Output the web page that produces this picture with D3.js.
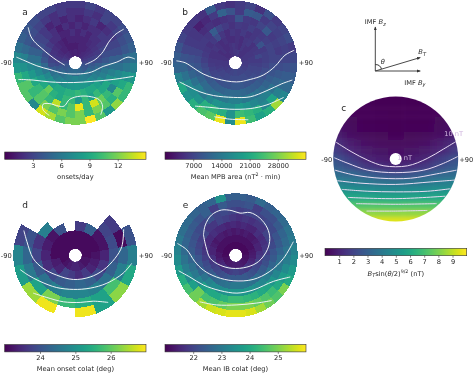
<!DOCTYPE html>
<html>
<head>
<meta charset="utf-8">
<script src="https://cdn.jsdelivr.net/npm/d3@7"></script>
<style>
html, body { margin: 0; padding: 0; background: #fff; }
svg { display: block; filter: blur(0.4px); }
text { font-family: "DejaVu Sans", sans-serif; font-size: 6.7px; fill: #262626; }
</style>
</head>
<body>
<script>
var width = 474;
var height = 373;

// rings run inner to outer, sectors run clockwise from the top in 10 degree steps
var onsets = [
  [1.5,1.4,1.5,1.7,1.8,2,2.3,2.6,3,3.5,3.8,4,4.2,4.5,4.8,5,5,5.2, 5.2,5,5,4.8,4.5,4.2,4,3.8,3.5,3,2.6,2.3,2,1.8,1.7,1.5,1.4,1.5],
  [1.2,1.5,1.5,1.5,1.8,2,2.3,2.8,3.2,4,4.5,5,5.5,6,6.3,6.5,6.5,6.8, 6.8,6.5,6.3,6,5.5,5,4.5,4,3.2,2.8,2.3,2,1.8,1.5,1.5,1.2,1.2,1.2],
  [1.5,1.5,1.5,1.8,2,2.2,2.5,3,3.5,4.5,5.2,6,6.5,7,7.5,8,8,8.2, 8,8,7.5,7,6.5,6,5.5,4.5,3.5,3,2.5,2.2,2,1.8,1.5,1.2,1.5,1.5],
  [1.5,2,1.5,2,2,2.5,3,3.5,4,5,6,6.5,7.5,8.5,9,9,9.5,10, 9.5,9.5,9,9,8.5,7.5,7,6,5,4,3.5,3,2.5,2,2,1.5,1.5,2],
  [2,1.5,2,2,2.5,2.5,3,3.5,4.5,5.5,6.5,7.5,9,9,10,8.5,10,8, 10,10,9,9.5,11.5,9,8,7,6.5,5.5,4.5,3.5,3,2.5,2,1.2,2,1.5],
  [1.5,2,2.5,1.5,2,2.5,3,3.5,4.5,5.5,7,8.5,7,10,11.5,14,10,14.5, 11,10,13.5,10,11,10,9,8,7,5.5,4.5,3.5,3,2.5,1.5,2,1.5,2],
  [2,2.5,2,3,2.5,3,3.5,4,5,6,7.5,9,11,9.5,11,12,10,12, 11,12,11,12,11,10,11,9,7.5,6.5,5,4,3.5,3,2.5,2,2.5,2],
  [2.5,3,2.5,3,3,3.5,4,4.5,5.5,6.5,8,10,10,12.5,8,11,15,12, 12,11,13,14,7,11,11,10,8,7,5.5,4.5,4,3.5,3,3,2.5,2.5]
];

var mpb_area = [
  [5500,6000,5000,5000,5000,5500,5500,5500,6000,6000,6000,6500,6500,7000,7000,7000,7000,7500, 7500,7000,7000,6500,6500,6000,6000,5500,5500,5500,5000,5000,4500,4500,4500,5000,5000,5500],
  [5000,4500,5500,5000,5000,5500,5500,6000,6000,6500,7000,7000,7500,7500,8000,8000,8000,8000, 8000,8000,7500,7500,7000,7000,6500,6000,5500,5500,5000,5000,4500,5000,4500,4500,5000,5500],
  [5000,4500,5500,6000,5000,5500,6000,7500,6000,6500,7000,7500,8000,8500,9000,9000,9500,9500, 9500,9000,9000,8500,8000,7500,7000,6500,6000,5500,5000,5000,5500,5000,4500,5000,4500,4500],
  [5000,6000,5000,5500,6500,9000,6000,6500,6500,7000,8000,8500,9500,10000,10500,11000,11500,12000, 12000,11500,11000,10500,10000,9500,9000,8000,7500,6500,6000,5500,5000,6000,8000,5500,4500,5500],
  [6000,5500,6500,5500,6000,6500,7000,7000,7000,8000,9000,10000,11000,12000,13000,14000,14000,15000, 15000,14000,14000,13000,12000,12000,11000,10000,9000,8000,7000,6000,6000,5500,10000,7000,6000,5000],
  [9000,6000,5500,7000,9500,6000,6500,6000,7000,8000,9500,11000,13000,15000,15000,16000,18000,19000, 17000,17000,18000,16000,14000,15000,13000,11000,9500,8500,7000,6000,5500,4500,5000,4500,5000,5500],
  [6000,10000,9500,6000,7000,6500,7000,6500,7000,8500,10000,12000,15000,20000,16000,22000,23000,24000, 18000,22000,23000,22000,18000,17000,16000,13000,11000,9000,7000,6000,5500,3000,4000,6000,11000,9000],
  [6000,7000,5000,8500,6000,7000,8000,6000,7500,9000,10000,12000,16000,30000,22000,20000,24000,34000, 17000,34000,26000,25000,22000,18000,21000,15000,11000,10000,9000,7000,6000,5500,5000,10000,6000,5000]
];

// 20 degree sectors, empty bins are null
var onset_colat = [
  [23.1,23.1,23.1,23.1,23.1,23.2,23.2,23.3,23.4,23.4,23.3,23.2,23.1,23.1,23.1,23.1,23.1,23.1],
  [23.1,23.1,23.1,23.1,23.2,23.3,23.4,23.7,23.5,23.7,23.8,23.4,23.3,23.1,23.1,23.1,23.1,23.1],
  [23.7,24.2,23.2,23.2,23.4,23.6,23.9,24.2,24.3,24.2,24.1,23.9,23.5,23.4,23.3,23.2,24.0,null],
  [null,null,23.8,23.9,24.0,24.2,24.5,24.7,24.8,24.8,24.7,24.5,24.1,23.8,23.6,24.7,null,null],
  [null,null,23.7,23.1,24.3,24.7,25.8,25.3,25.5,25.7,26.2,25.3,24.6,24.3,24.0,null,null,null],
  [null,null,null,24.0,24.7,25.4,26.3,25.3,26.9,null,26.9,26.4,25.2,24.8,23.8,null,null,null]
];

var ib_colat = [
  [21.1,21.1,21.1,21.1,21.1,21.1,21.1,21.1,21.15,21.2,21.2,21.25,21.3,21.3,21.35,21.4,21.4,21.4, 21.4,21.4,21.35,21.3,21.3,21.25,21.2,21.2,21.15,21.1,21.1,21.1,21.1,21.1,21.1,21.1,21.1,21.1],
  [21.2,21.2,21.2,21.2,21.2,21.2,21.2,21.3,21.35,21.4,21.5,21.6,21.7,21.8,21.8,21.9,21.9,22.0, 22.0,21.9,21.8,21.8,21.7,21.6,21.5,21.4,21.3,21.3,21.2,21.2,21.2,21.2,21.2,21.2,21.2,21.2],
  [21.4,21.3,21.4,21.3,21.3,21.4,21.5,21.5,21.7,21.8,21.9,22.0,22.1,22.2,22.3,22.4,22.4,22.4, 22.4,22.4,22.3,22.2,22.1,22.0,21.9,21.8,21.7,21.5,21.5,21.4,21.3,21.4,21.4,21.3,21.4,21.3],
  [21.5,21.6,21.5,21.5,21.7,21.6,21.7,21.8,21.9,22.1,22.2,22.4,22.5,22.7,22.8,22.9,23.0,23.0, 23.0,22.9,22.8,22.7,22.6,22.4,22.2,22.1,21.9,21.8,21.7,21.6,21.6,21.7,21.6,21.6,21.5,21.6],
  [21.7,21.8,21.7,21.8,21.8,22.0,22.0,22.1,22.3,22.4,22.6,22.9,23.1,23.3,23.4,23.5,23.6,23.6, 23.6,23.5,23.4,23.4,23.2,22.9,22.6,22.4,22.3,22.1,22.0,21.9,22.0,21.8,21.8,22.0,21.9,21.8],
  [21.9,22.0,22.0,22.0,22.1,22.1,22.3,22.4,22.6,22.8,23.0,23.3,23.6,23.9,24.0,24.2,24.3,24.4, 24.4,24.2,24.0,24.0,23.8,23.3,23.0,22.8,22.6,22.4,22.3,22.2,22.1,22.0,22.2,22.0,22.1,22.0],
  [22.2,22.3,21.9,22.2,22.2,22.4,22.6,22.7,22.9,23.1,23.4,23.7,24.0,24.4,24.6,24.8,25.0,25.0, 25.0,24.8,24.6,24.5,24.9,23.8,23.4,23.1,22.9,22.7,22.6,22.5,22.4,22.3,22.5,21.9,22.4,22.2],
  [22.5,22.4,22.7,22.5,22.6,22.7,22.9,23.0,23.2,23.4,23.7,24.0,25.0,24.6,24.9,25.3,25.7,25.8, 25.8,25.7,25.6,25.3,24.9,24.5,24.1,23.7,23.4,23.2,23.0,22.8,22.7,22.6,22.5,22.6,23.5,22.5]
];

// panel c read on a regular grid, columns are |x| = 0, .25, .5, .75, 1 (left and right look the same)
var coupling_rows = [-1,-.875,-.75,-.625,-.5,-.375,-.25,-.125,0,.125,.25,.375,.5,.625,.75,.875,1];
var coupling_cols = [0,.25,.5,.75,1];
var coupling = [
  [0,0,.02,.05,.1],
  [.02,.02,.04,.08,.15],
  [.03,.04,.06,.12,.25],
  [.05,.06,.1,.2,.4],
  [.1,.12,.15,.3,.6],
  [.15,.18,.25,.4,.9],
  [.25,.3,.45,.75,1.4],
  [.4,.5,.7,1.1,1.9],
  [.65,.8,1.05,1.8,2.5],
  [1.05,1.3,1.6,2.4,2.9],
  [2.3,2.5,2.9,3.3,3.5],
  [3.6,3.7,3.95,4.15,4.3],
  [4.75,4.8,4.85,5,5.1],
  [5.85,5.9,5.95,6,6.1],
  [7.15,7.2,7.2,7.2,7.2],
  [8.3,8.3,8.3,8.3,8.3],
  [9.5,9.5,9.5,9.5,9.5]
];

// contours, x and y in units of the plot radius, y pointing down
var contours_a = [
  [[-.76,-.57],[-.72,-.43],[-.66,-.34],[-.54,-.23],[-.41,-.12],[-.30,-.04],[-.17,.04]],
  [[.16,.03],[.32,-.05],[.45,-.18],[.53,-.32],[.64,-.45],[.78,-.54]],
  [[-.95,-.09],[-.81,-.03],[-.62,.05],[-.41,.11],[-.19,.17],[.08,.18],[.26,.15],[.45,.06],[.67,-.01],[.85,-.09],[.96,-.06]],
  [[-.92,.27],[-.68,.28],[-.41,.31],[-.03,.32],[.29,.30],[.61,.27],[.94,.22]],
  [[-.42,.85],[-.52,.76],[-.52,.67],[-.41,.66],[-.27,.70],[-.18,.70],[-.09,.59],[.08,.54],[.26,.55],[.39,.60],[.44,.70],[.41,.84]]
];
var contours_b = [
  [[-.95,-.03],[-.81,0],[-.68,.08],[-.52,.18],[-.30,.26],[.02,.31],[.24,.27],[.45,.20],[.64,.06],[.80,-.12],[.95,-.20]],
  [[-.90,.31],[-.76,.38],[-.57,.47],[-.35,.53],[-.03,.56],[.24,.55],[.51,.45],[.75,.34],[.92,.28]],
  [[-.65,.70],[-.41,.72],[-.09,.75],[.24,.74],[.51,.68],[.78,.56]],
  [[-.34,.87],[-.09,.91],[.21,.92]]
];
var contours_c = [
  [[-.96,-.27],[-.72,-.12],[-.45,.02],[-.19,.11],[.19,.11],[.51,-.01],[.77,-.16],[.97,-.28]],
  [[-.99,-.02],[-.77,.07],[-.45,.18],[0,.22],[.45,.18],[.77,.07],[1,-.04]],
  [[-.98,.18],[-.66,.26],[-.24,.31],[.24,.31],[.66,.24],[.98,.18]],
  [[-.94,.35],[-.56,.39],[0,.41],[.56,.37],[.96,.34]],
  [[-.87,.49],[-.45,.52],[0,.53],[.51,.52],[.88,.48]],
  [[-.77,.62],[0,.64],[.80,.60]],
  [[-.64,.72],[0,.73],[.66,.72]],
  [[-.47,.84],[0,.84],[.51,.83]]
];
var contours_d = [
  [[-.83,-.40],[-.78,-.22],[-.68,.05],[-.52,.21],[-.30,.32],[-.03,.39],[.24,.35],[.45,.24],[.64,.05],[.75,-.14],[.78,-.42]],
  [[-.89,.23],[-.76,.32],[-.57,.42],[-.30,.52],[-.03,.55],[.24,.53],[.51,.45],[.77,.29],[.91,.13]],
  [[-.68,.61],[-.46,.68],[-.19,.75],[.08,.76],[.29,.74],[.53,.76]]
];
var contours_e = [
  [[-.52,-.33],[-.49,-.49],[-.39,-.65],[-.23,-.73],[-.06,-.72],[.07,-.68],[.23,-.69],[.39,-.60],[.51,-.44],[.55,-.27],[.51,-.09],[.37,.10],[.18,.19],[-.06,.21],[-.25,.16],[-.41,.05],[-.48,-.14],[-.52,-.33]],
  [[-.94,-.19],[-.79,-.09],[-.66,.10],[-.52,.24],[-.31,.35],[-.04,.41],[.28,.39],[.55,.26],[.77,.05],[.93,-.22]],
  [[-.92,.25],[-.74,.35],[-.52,.48],[-.25,.57],[.02,.61],[.28,.56],[.61,.42],[.88,.35]],
  [[-.58,.75],[-.31,.80],[.02,.80],[.34,.77],[.58,.73]]
];

var ticks_a = [3, 6, 9, 12];
var ticks_b = [7000, 14000, 21000, 28000];
var ticks_c = [1, 2, 3, 4, 5, 6, 7, 8, 9];
var ticks_d = [24, 25, 26];
var ticks_e = [22, 23, 24, 25];

var radius = 62;
var hole_radius = 6.3;

var svg = d3.select('body').append('svg')
    .attr('width', width)
    .attr('height', height);

var defs = svg.append('defs');

defs.append('filter')
    .attr('id', 'smooth')
    .attr('filterUnits', 'userSpaceOnUse')
    .attr('x', -120).attr('y', -120)
    .attr('width', 240).attr('height', 240)
    .append('feGaussianBlur')
    .attr('stdDeviation', '6 2.2');

var viridis_stops = d3.range(0, 1.01, 0.05);
defs.append('linearGradient')
    .attr('id', 'viridis_bar')
    .selectAll('stop').data(viridis_stops).enter()
    .append('stop')
    .attr('offset', function(d) { return d; })
    .attr('stop-color', function(d) { return d3.interpolateViridis(d); });

function add_labels(g, letter, letter_x, letter_y) {
    g.append('text').attr('x', letter_x).attr('y', letter_y)
        .style('font-size', '9px')
        .text(letter);
    g.append('text').attr('x', -radius - 1.5).attr('y', 2.5)
        .style('text-anchor', 'end')
        .text('-90');
    g.append('text').attr('x', radius + 1.5).attr('y', 2.5)
        .text('+90');
}

function draw_contours(g, lines, color) {
    var x = d3.scaleLinear().domain([-1, 1]).range([-radius, radius]);
    var line = d3.line()
        .x(function(d) { return x(d[0]); })
        .y(function(d) { return x(d[1]); })
        .curve(d3.curveCatmullRom.alpha(0.5));
    g.append('g').selectAll('path').data(lines).enter()
        .append('path')
        .attr('d', line)
        .attr('fill', 'none')
        .attr('stroke', color)
        .attr('stroke-width', 1);
}

function draw_polar(cx, cy, values, domain, lines, letter) {
    var g = svg.append('g').attr('transform', `translate(${cx}, ${cy})`);
    var n_rings = values.length;
    var n_sectors = values[0].length;
    var color = d3.scaleSequential(d3.interpolateViridis).domain(domain);
    var ring = d3.scaleLinear().domain([0, n_rings]).range([hole_radius, radius]);
    var angle = d3.scaleLinear().domain([0, n_sectors]).range([0, 2 * Math.PI]);
    var arc = d3.arc()
        .innerRadius(function(d) { return ring(d.r); })
        .outerRadius(function(d) { return ring(d.r + 1); })
        .startAngle(function(d) { return angle(d.s); })
        .endAngle(function(d) { return angle(d.s + 1); });

    var cells = [];
    values.forEach(function(row, r) {
        row.forEach(function(v, s) {
            if (v !== null) cells.push({r: r, s: s, v: v});
        });
    });

    g.append('g').selectAll('path').data(cells).enter()
        .append('path')
        .attr('d', arc)
        .attr('shape-rendering', 'crispEdges')
        .attr('fill', function(d) { return color(d.v); });

    g.append('circle').attr('r', hole_radius).attr('fill', '#fff');
    draw_contours(g, lines, '#eef4f6');
    add_labels(g, letter, -53, -47.3);
}

function draw_coupling(cx, cy, lines) {
    var g = svg.append('g').attr('transform', `translate(${cx}, ${cy})`);
    var color = d3.scaleSequential(d3.interpolateViridis).domain([0, 10]);
    var pos = d3.scaleLinear().domain([-1, 1]).range([-radius, radius]);

    defs.append('clipPath').attr('id', 'coupling_clip')
        .append('circle').attr('r', radius + 0.5);

    var cells = [];
    coupling.forEach(function(row, r) {
        row.forEach(function(v, c) {
            cells.push({x: coupling_cols[c], y: coupling_rows[r], v: v});
            if (coupling_cols[c] > 0) cells.push({x: -coupling_cols[c], y: coupling_rows[r], v: v});
        });
    });
    // outer cells run on past the circle so the smoothing does not fade at the rim
    function cell_x0(d) { return d.x == -1 ? -1.7 : d.x - 0.13; }
    function cell_x1(d) { return d.x == 1 ? 1.7 : d.x + 0.13; }
    function cell_y0(d) { return d.y == -1 ? -1.4 : d.y - 0.065; }
    function cell_y1(d) { return d.y == 1 ? 1.4 : d.y + 0.065; }

    g.append('g')
        .attr('clip-path', 'url(#coupling_clip)')
        .append('g')
        .attr('filter', 'url(#smooth)')
        .selectAll('rect').data(cells).enter()
        .append('rect')
        .attr('x', function(d) { return pos(cell_x0(d)); })
        .attr('width', function(d) { return pos(cell_x1(d)) - pos(cell_x0(d)); })
        .attr('y', function(d) { return pos(cell_y0(d)); })
        .attr('height', function(d) { return pos(cell_y1(d)) - pos(cell_y0(d)); })
        .attr('fill', function(d) { return color(d.v); });

    g.append('circle').attr('r', 6).attr('fill', '#fff');
    draw_contours(g, lines, '#e9dcf2');
    add_labels(g, 'c', -54.5, -48);

    g.append('text').attr('x', 9).attr('y', 0.8)
        .style('text-anchor', 'middle').style('fill', '#cdb8dd').text('1 nT');
    g.append('text').attr('x', 58).attr('y', -23)
        .style('text-anchor', 'middle').style('fill', '#cdb0dc').text('10 nT');
}

function draw_colorbar(x0, x1, y, bar_height, domain, ticks, label_fn, label_y) {
    var x = d3.scaleLinear().domain(domain).range([x0, x1]);
    var g = svg.append('g');

    g.append('rect')
        .attr('x', x0).attr('y', y)
        .attr('width', x1 - x0).attr('height', bar_height)
        .attr('fill', 'url(#viridis_bar)')
        .attr('stroke', '#333')
        .attr('stroke-width', 0.6);

    var axis = g.append('g')
        .attr('transform', `translate(0, ${y + bar_height})`)
        .call(d3.axisBottom(x).tickValues(ticks).tickFormat(d3.format('d')).tickSize(2).tickPadding(1.5));
    axis.select('.domain').remove();
    axis.selectAll('line').attr('stroke', '#333').attr('stroke-width', 0.6);
    axis.selectAll('text').style('font-family', null).style('font-size', '6.7px').style('fill', '#262626');

    var label = g.append('text')
        .attr('x', (x0 + x1) / 2)
        .attr('y', label_y)
        .style('text-anchor', 'middle');
    label_fn(label);
}

function plain(s) {
    return function(t) { t.text(s); };
}

function draw_imf() {
    var g = svg.append('g').attr('transform', 'translate(375.3, 71)');
    var x = d3.scaleLinear().domain([0, 1]).range([0, 45]);
    var vectors = [[0, 0.98], [1, 0], [1, 0.3]];
    var marker = defs.append('marker')
        .attr('id', 'arrow')
        .attr('viewBox', '0 0 6 6')
        .attr('refX', 5.5).attr('refY', 3)
        .attr('markerWidth', 4).attr('markerHeight', 4)
        .attr('orient', 'auto');
    marker.append('path').attr('d', 'M0,0.5L6,3L0,5.5Z').attr('fill', '#333');

    g.selectAll('line').data(vectors).enter()
        .append('line')
        .attr('x1', 0).attr('y1', 0)
        .attr('x2', function(d) { return x(d[0]); })
        .attr('y2', function(d) { return -x(d[1]); })
        .attr('stroke', '#333')
        .attr('stroke-width', 0.9)
        .attr('marker-end', 'url(#arrow)');

    g.append('path')
        .attr('d', d3.arc()({innerRadius: 6.5, outerRadius: 6.5, startAngle: 0, endAngle: Math.atan2(1, 0.3)}))
        .attr('fill', 'none')
        .attr('stroke', '#333')
        .attr('stroke-width', 0.6);

    g.append('text').attr('x', 7.5).attr('y', -7.5).style('text-anchor', 'middle')
        .style('font-style', 'italic').text('θ');

    var bz = g.append('text').attr('x', 0).attr('y', -47).style('text-anchor', 'middle');
    bz.append('tspan').text('IMF ');
    bz.append('tspan').style('font-style', 'italic').text('B');
    bz.append('tspan').attr('dy', 1.5).style('font-size', '5px').style('font-style', 'italic').text('z');

    var by = g.append('text').attr('x', 39.5).attr('y', 13.5).style('text-anchor', 'middle');
    by.append('tspan').text('IMF ');
    by.append('tspan').style('font-style', 'italic').text('B');
    by.append('tspan').attr('dy', 1.5).style('font-size', '5px').style('font-style', 'italic').text('y');

    var bt = g.append('text').attr('x', 43).attr('y', -17);
    bt.append('tspan').style('font-style', 'italic').text('B');
    bt.append('tspan').attr('dy', 1.5).style('font-size', '5px').style('font-style', 'italic').text('T');
}

draw_polar(75.3, 62.7, onsets, [0, 15], contours_a, 'a');
draw_polar(235.3, 62.7, mpb_area, [0, 35000], contours_b, 'b');
draw_polar(75.3, 255.3, onset_colat, [23, 27], contours_d, 'd');
draw_polar(235.7, 255.3, ib_colat, [21, 26], contours_e, 'e');
draw_coupling(395.7, 159, contours_c);
draw_imf();

draw_colorbar(4.7, 146, 152, 7.3, [0, 15], ticks_a, plain('onsets/day'), 178.5);
draw_colorbar(165, 306, 152, 7.3, [0, 35000], ticks_b, function(t) {
    t.append('tspan').text('Mean MPB area (nT');
    t.append('tspan').attr('dy', -2.5).style('font-size', '4.8px').text('2');
    t.append('tspan').attr('dy', 2.5).text(' · min)');
}, 178.5);
draw_colorbar(325, 466.7, 248.3, 7.4, [0, 10], ticks_c, function(t) {
    t.append('tspan').style('font-style', 'italic').text('B');
    t.append('tspan').attr('dy', 1.5).style('font-size', '5px').style('font-style', 'italic').text('T');
    t.append('tspan').attr('dy', -1.5).text('sin(');
    t.append('tspan').style('font-style', 'italic').text('θ');
    t.append('tspan').text('/2)');
    t.append('tspan').attr('dy', -2.5).style('font-size', '4.8px').text('9/2');
    t.append('tspan').attr('dy', 2.5).text(' (nT)');
}, 275.5);
draw_colorbar(4.7, 146, 344.5, 7.4, [23, 27], ticks_d, plain('Mean onset colat (deg)'), 370.5);
draw_colorbar(165, 306, 344.5, 7.4, [21, 26], ticks_e, plain('Mean IB colat (deg)'), 370.5);
</script>
</body>
</html>
